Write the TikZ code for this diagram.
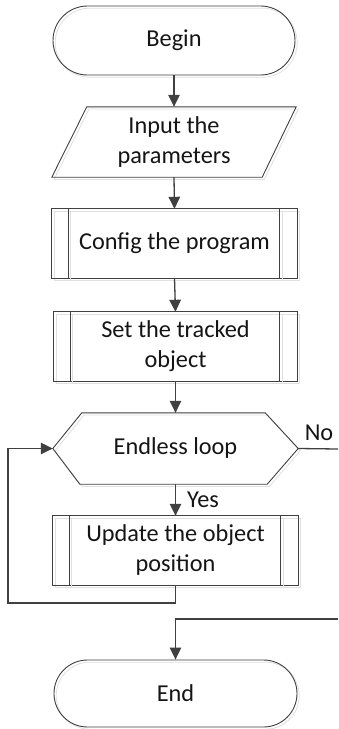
\documentclass[tikz,border=0pt]{standalone}
\usepackage{fontspec}
\setmainfont{Carlito}
\usetikzlibrary{arrows.meta,shapes.misc,calc}
\definecolor{ln}{HTML}{404040}
\definecolor{txt}{HTML}{151515}
\begin{document}
\begin{tikzpicture}[x=1pt,y=-1pt,
  shadowed/.style={preaction={draw=black!12,line width=0.8pt,transform canvas={xshift=2.2pt,yshift=-2.2pt}}},
  lbl/.style={font=\fontsize{24.3}{30}\selectfont,text=txt,align=center,inner sep=0pt},
  term/.style={lbl,rounded rectangle,draw=ln,line width=0.9pt,shadowed},
  boxshape/.style={lbl,rectangle,draw=none},
  outline/.style={draw=ln,line width=0.9pt,shadowed},
  conn/.style={draw=ln,line width=1.3pt},
  arr/.style={conn,-{Triangle[length=12pt,width=11.5pt]}},
  small/.style={font=\fontsize{24.3}{28}\selectfont,text=txt,inner sep=1pt}]
\useasboundingbox (0,0) rectangle (338,729);
\fill[white] (0,0) rectangle (338,729);

% nodes
\node[term,minimum width=242pt,minimum height=69pt] (begin) at (174,40.5) {Begin};
\node[boxshape,minimum width=244pt,minimum height=70pt] (inp) at (174,142) {Input the\\parameters};
\node[boxshape,minimum width=245pt,minimum height=69pt] (cfg) at (174.5,243.5) {Config the program};
\node[boxshape,minimum width=243pt,minimum height=69pt] (set) at (175.5,346.5) {Set the tracked\\object};
\node[boxshape,minimum width=245pt,minimum height=71pt] (loop) at (175.5,448.5) {Endless loop};
\node[boxshape,minimum width=245pt,minimum height=69pt] (upd) at (175.5,550.5) {Update the object\\position};
\node[term,minimum width=243pt,minimum height=67pt] (end) at (175.5,693.5) {End};

% outlines
\draw[outline] ($(inp.north west)+(35,0)$) -- (inp.north east) -- ($(inp.south east)-(34,0)$) -- (inp.south west) -- cycle;
\foreach \n in {cfg,set,upd}{
  \draw[outline] (\n.north west) rectangle (\n.south east);
  \draw[outline] ($(\n.north west)+(16.5,0)$) -- ($(\n.south west)+(16.5,0)$);
  \draw[outline] ($(\n.north east)-(17.5,0)$) -- ($(\n.south east)-(17.5,0)$);
}
\draw[outline] (loop.west) -- ($(loop.north west)+(29,0)$) -- ($(loop.north east)-(33,0)$) -- (loop.east) -- ($(loop.south east)-(31,0)$) -- ($(loop.south west)+(27,0)$) -- cycle;

% connectors
\coordinate (noout) at (338,449);
\coordinate (noin) at (338,619);
\coordinate (back) at (8,603);
\draw[arr] (begin.south) -- (inp.north);
\draw[arr] (inp.south) -- (cfg.north);
\draw[arr] (cfg.south) -- (set.north);
\draw[arr] (set.south) -- (loop.north);
\draw[arr] (loop.south) -- (upd.north);
\draw[arr] (upd.south) |- (back) |- (loop.west);
\draw[conn] (loop.east) -- (noout);
\draw[arr] (noin) -| (end.north);

% labels
\node[small,anchor=west] (yes) at (186,500) {Yes};
\node[small,anchor=center] (no) at (319,433) {No};
\end{tikzpicture}
\end{document}
